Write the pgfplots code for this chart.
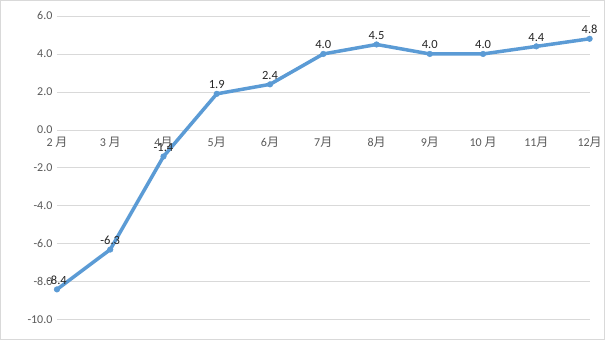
\documentclass[border=0pt]{standalone}
\usepackage{fontspec}
\setmainfont{Carlito}
\newfontfamily\cjk{Noto Sans CJK SC}
\usepackage{pgfplots}
\pgfplotsset{compat=1.18}
\definecolor{lineblue}{HTML}{5B9BD5}
\definecolor{gridgray}{HTML}{D9D9D9}
\definecolor{ticktext}{HTML}{595959}
\begin{document}
\begin{tikzpicture}[x=1pt,y=1pt]
\fill[white] (0,0) rectangle (605,340);
\draw[gray!30, line width=0.8pt] (0.4,0.4) rectangle (604.6,339.6);
\begin{axis}[
  at={(57pt,20pt)}, anchor=south west,
  scale only axis, width=533pt, height=304pt,
  xmin=0, xmax=10, ymin=-10, ymax=6,
  axis line style={draw=none},
  xtick={0,...,10},
  xticklabels={2 {\cjk 月},3 {\cjk 月},4{\cjk 月},5{\cjk 月},6{\cjk 月},7{\cjk 月},8{\cjk 月},9{\cjk 月},10 {\cjk 月},11{\cjk 月},12{\cjk 月}},
  ytick={-10,-8,...,6},
  major tick length=0pt,
  ymajorgrids, grid style={gridgray, line width=0.8pt},
  /pgf/number format/fixed,
  /pgf/number format/fixed zerofill,
  /pgf/number format/precision=1,
  /pgf/number format/assume math mode=true,
  ticklabel style={font=\fontsize{12}{13}\selectfont, text=ticktext},
  xticklabel style={yshift=186pt},
  yticklabel style={xshift=-1pt},
  clip=false,
  nodes near coords,
  nodes near coords style={font=\fontsize{12.5}{13}\selectfont, text=black!85, anchor=south, yshift=1.5pt},
]
\addplot[lineblue, line width=3.5pt, mark=*, mark size=2.8pt, mark options={fill=lineblue, draw=lineblue, line width=0.5pt}]
 coordinates {(0,-8.4) (1,-6.3) (2,-1.4) (3,1.9) (4,2.4) (5,4.0) (6,4.5) (7,4.0) (8,4.0) (9,4.4) (10,4.8)};
\end{axis}
\end{tikzpicture}
\end{document}
